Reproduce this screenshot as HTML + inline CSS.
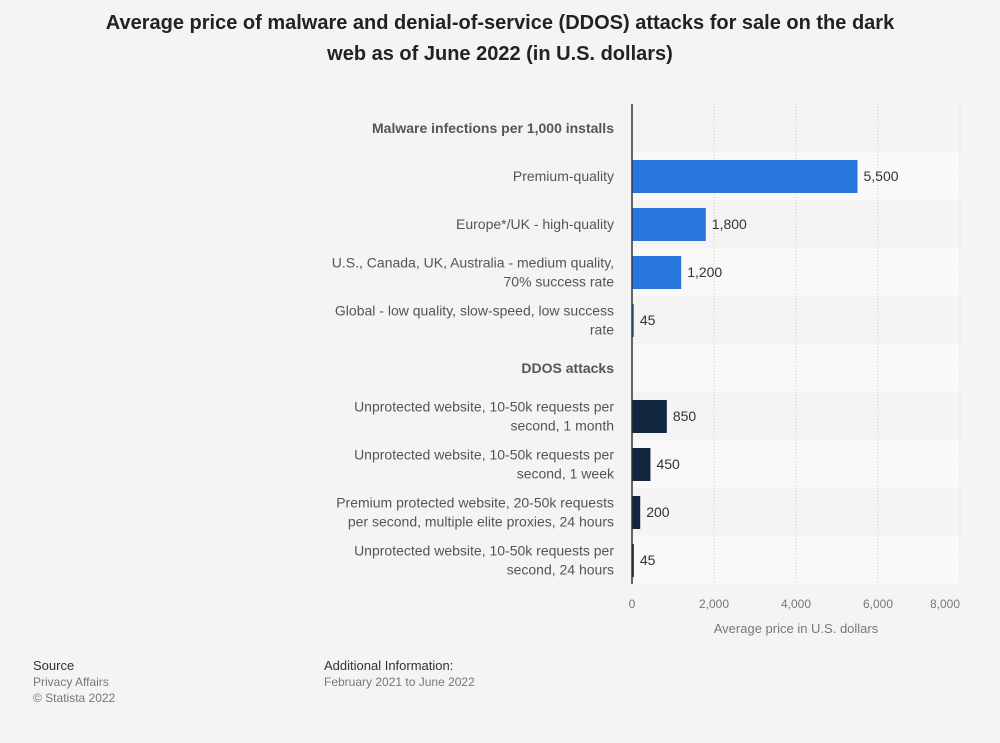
<!DOCTYPE html>
<html><head><meta charset="utf-8"><style>
body{margin:0;background:#f4f4f4;font-family:"Liberation Sans",sans-serif;}
#wrap{position:relative;width:1000px;height:743px;}
h1{position:absolute;top:8px;left:0;width:1000px;text-align:center;margin:0;font-size:20px;line-height:31px;color:#222;font-weight:bold;}
.foot{position:absolute;font-size:13px;color:#333;line-height:16px}
.foot span{color:#777;font-size:12px}
</style></head><body><div id="wrap">
<h1>Average price of malware and denial-of-service (DDOS) attacks for sale on the dark<br>web as of June 2022 (in U.S. dollars)</h1>
<svg id="c" width="1000" height="743" style="position:absolute;left:0;top:0"></svg>
<div class="foot" style="left:33px;top:658px">Source<br><span>Privacy Affairs<br>© Statista 2022</span></div>
<div class="foot" style="left:324px;top:658px">Additional Information:<br><span>February 2021 to June 2022</span></div>
</div>
<script>
const categories=[["Malware infections per 1,000 installs"],["Premium-quality"],["Europe*/UK - high-quality"],["U.S., Canada, UK, Australia - medium quality,","70% success rate"],["Global - low quality, slow-speed, low success","rate"],["DDOS attacks"],["Unprotected website, 10-50k requests per","second, 1 month"],["Unprotected website, 10-50k requests per","second, 1 week"],["Premium protected website, 20-50k requests","per second, multiple elite proxies, 24 hours"],["Unprotected website, 10-50k requests per","second, 24 hours"]];
const values=[null,5500,1800,1200,45,null,850,450,200,45];
const headers=[true,false,false,false,false,true,false,false,false,false];
const ticks=[0,2000,4000,6000,8000];
const NS="http://www.w3.org/2000/svg",svg=document.getElementById('c');
const x0=632,x1=960,plotTop=104,rowH=48,max=8000;
const X=v=>x0+(v/max)*(x1-x0), Y=i=>plotTop+i*rowH;
function el(t,a,p){const e=document.createElementNS(NS,t);for(const k in a)e.setAttribute(k,a[k]);(p||svg).appendChild(e);return e;}
categories.forEach((c,i)=>{if(i%2==1){const b=el('rect',{x:x0,y:Y(i),width:x1-x0+2,height:rowH,fill:'#f9f9f9'});

}});
ticks.forEach((t,k)=>{if(t>0){const g=el('line',{x1:X(t),x2:X(t),y1:plotTop,y2:plotTop+rowH*categories.length,stroke:'#ccc','stroke-dasharray':'1,2'});

}
const last=k==ticks.length-1;
const tl=el('text',{x:X(t),y:608,'text-anchor':last?'end':'middle','font-size':12,fill:'#777'});tl.textContent=t.toLocaleString('en-US');

});
categories.forEach((c,i)=>{const cy=Y(i)+rowH/2;
const t=el('text',{x:614,'text-anchor':'end','font-size':14,fill:'#555','font-weight':headers[i]?'bold':'normal'});


c.forEach((ln,j)=>{const s=el('tspan',{x:614,y:cy+5+(j-(c.length-1)/2)*19},t);s.textContent=ln;});
const v=values[i];if(v!=null){const col=i<5?'#2876dd':'#13263f';
const b=el('rect',{x:x0,y:cy-16,width:X(v)-x0,height:33,fill:col});


const l=el('text',{x:X(v)+6,y:cy+5,'font-size':14,fill:'#333'});l.textContent=v.toLocaleString('en-US');

}});
const ax=el('line',{x1:x0,x2:x0,y1:plotTop,y2:plotTop+rowH*categories.length,stroke:'#333','stroke-width':1.5});


const at=el('text',{x:796,y:633,'text-anchor':'middle','font-size':13,fill:'#777'});at.textContent='Average price in U.S. dollars';


</script></body></html>
